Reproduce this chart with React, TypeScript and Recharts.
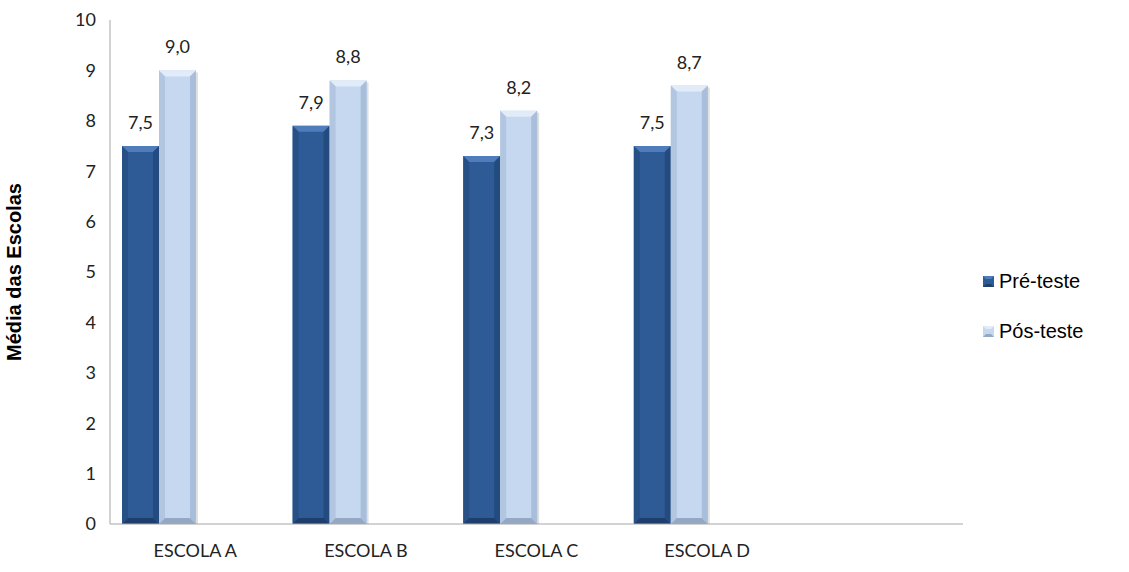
import React from "react";
import { BarChart, Bar, XAxis, YAxis, LabelList } from "recharts";

const escolas = ["ESCOLA A", "ESCOLA B", "ESCOLA C", "ESCOLA D", ""];
const preTeste = [7.5, 7.9, 7.3, 7.5, null];
const posTeste = [9.0, 8.8, 8.2, 8.7, null];
const yTicks = [0, 1, 2, 3, 4, 5, 6, 7, 8, 9, 10];

const data = escolas.map((escola, i) => ({
  escola,
  pre: preTeste[i],
  pos: posTeste[i],
  vazio1: null,
  vazio2: null,
}));

interface Palette {
  main: string;
  top: string;
  side: string;
  bottom: string;
}

const darkBlue: Palette = { main: "#2E5A95", top: "#4F7DBC", side: "#244B80", bottom: "#1E3F6C" };
const lightBlue: Palette = { main: "#C5D8F0", top: "#E2ECF8", side: "#A9BEDA", bottom: "#94A8C4" };

const tickFont = "Lato, 'Open Sans', sans-serif";

const fmt = (v: any) => (v == null ? "" : Number(v).toFixed(1).replace(".", ","));

const bevelShape = (pal: Palette) => (props: any) => {
  const { x, y, width, height } = props;
  if (!height || height <= 0) return <g />;
  const b = 6;
  return (
    <g>
      <rect x={x + 2} y={y + 2} width={width} height={height - 2} fill="#000" opacity={0.12} />
      <rect x={x} y={y} width={width} height={height} fill={pal.main} />
      <polygon points={`${x},${y} ${x + width},${y} ${x + width - b},${y + b} ${x + b},${y + b}`} fill={pal.top} />
      <polygon points={`${x},${y} ${x + b},${y + b} ${x + b},${y + height - b} ${x},${y + height}`} fill={pal.side} opacity={0.7} />
      <polygon points={`${x + width},${y} ${x + width - b},${y + b} ${x + width - b},${y + height - b} ${x + width},${y + height}`} fill={pal.side} />
      <polygon points={`${x},${y + height} ${x + b},${y + height - b} ${x + width - b},${y + height - b} ${x + width},${y + height}`} fill={pal.bottom} />
    </g>
  );
};

const legendItems = [
  { label: "Pré-teste", pal: darkBlue },
  { label: "Pós-teste", pal: lightBlue },
];

const App: React.FC = () => {
  return (
    <div style={{ position: "absolute", left: 0, top: 0, width: 1129, height: 572, background: "#fff" }}>
      <BarChart
        width={1129}
        height={572}
        data={data}
        margin={{ top: 20, right: 166, bottom: 8, left: 0 }}
        barCategoryGap={12}
        barGap={0}
      >
        <XAxis
          dataKey="escola"
          axisLine={{ stroke: "#A6A6A6" }}
          tickLine={false}
          height={40}
          tick={{ fill: "#222", fontSize: 18, fontFamily: tickFont }}
          tickMargin={14}
        />
        <YAxis
          domain={[0, 10]}
          ticks={yTicks}
          width={110}
          axisLine={{ stroke: "#A6A6A6" }}
          tickLine={false}
          tickMargin={8}
          tick={{ fill: "#222", fontSize: 18, fontFamily: tickFont }}
          label={{
            value: "Média das Escolas",
            angle: -90,
            position: "insideLeft",
            offset: 14,
            style: { fontFamily: "'Liberation Sans', Arial, sans-serif", fontWeight: "bold", fontSize: 20, fill: "#000", textAnchor: "middle" },
          }}
        />
        <Bar dataKey="pre" isAnimationActive={false} shape={bevelShape(darkBlue)}>
          <LabelList dataKey="pre" position="top" offset={17} formatter={fmt}
            style={{ fill: "#222", fontSize: 18, fontFamily: tickFont }} />
        </Bar>
        <Bar dataKey="pos" isAnimationActive={false} shape={bevelShape(lightBlue)}>
          <LabelList dataKey="pos" position="top" offset={17} formatter={fmt}
            style={{ fill: "#222", fontSize: 18, fontFamily: tickFont }} />
        </Bar>
        <Bar dataKey="vazio1" isAnimationActive={false} legendType="none" />
        <Bar dataKey="vazio2" isAnimationActive={false} legendType="none" />
      </BarChart>
      <div
        style={{
          position: "absolute",
          left: 983,
          top: 256,
          fontFamily: "'Liberation Sans', Arial, sans-serif",
          fontSize: 20,
          color: "#000",
        }}
      >
        {legendItems.map((item) => (
          <div key={item.label} style={{ display: "flex", alignItems: "center", height: 50 }}>
            <svg width={11} height={11} style={{ marginRight: 5 }}>
              <rect x={0} y={0} width={11} height={11} fill={item.pal.main} />
              <polygon points="0,0 11,0 8,3 3,3" fill={item.pal.top} />
              <polygon points="0,11 3,8 8,8 11,11" fill={item.pal.bottom} />
            </svg>
            <span>{item.label}</span>
          </div>
        ))}
      </div>
    </div>
  );
};

export default App;
